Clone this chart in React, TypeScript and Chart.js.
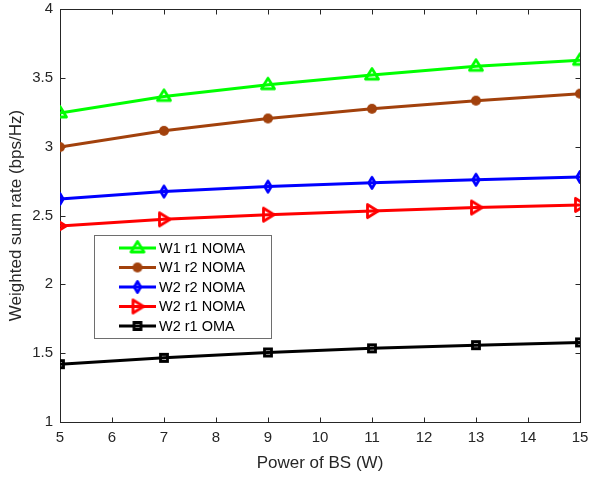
import React, { useEffect, useRef } from 'react';
import { Chart, registerables } from 'chart.js';

Chart.register(...registerables);

// ---- data ----
const powerBS = [5, 7, 9, 11, 13, 15];
const w1r1Noma = [3.245, 3.365, 3.45, 3.52, 3.584, 3.627];
const w1r2Noma = [2.997, 3.115, 3.205, 3.275, 3.334, 3.385];
const w2r2Noma = [2.62, 2.674, 2.71, 2.737, 2.76, 2.78];
const w2r1Noma = [2.424, 2.472, 2.506, 2.532, 2.558, 2.577];
const w2r1Oma = [1.42, 1.466, 1.505, 1.535, 1.558, 1.578];

const seriesLabels = ['W1 r1 NOMA', 'W1 r2 NOMA', 'W2 r2 NOMA', 'W2 r1 NOMA', 'W2 r1 OMA'];
const seriesColors = ['#00ff00', 'rgb(162,65,12)', '#0000ff', '#ff0000', '#000000'];
const seriesMarkers = ['triUp', 'circle', 'diamond', 'triRight', 'square'];
const seriesValues = [w1r1Noma, w1r2Noma, w2r2Noma, w2r1Noma, w2r1Oma];

const xTickValues = [5, 6, 7, 8, 9, 10, 11, 12, 13, 14, 15];
const yTickValues = [1, 1.5, 2, 2.5, 3, 3.5, 4];

const xTitle = 'Power of BS (W)';
const yTitle = 'Weighted sum rate (bps/Hz)';

const FONT = "'Liberation Sans', Arial, Helvetica, sans-serif";
const AXIS_COLOR = '#262626';

function makeMarker(kind: string, color: string): HTMLCanvasElement {
  const c = document.createElement('canvas');
  c.width = 24;
  c.height = 24;
  const ctx = c.getContext('2d')!;
  ctx.translate(12, 12);
  ctx.strokeStyle = color;
  ctx.fillStyle = color;
  ctx.lineWidth = 2.8;
  ctx.lineJoin = 'round';
  ctx.beginPath();
  if (kind === 'triUp') {
    ctx.moveTo(0, -6.5);
    ctx.lineTo(6.5, 4);
    ctx.lineTo(-6.5, 4);
    ctx.closePath();
    ctx.stroke();
  } else if (kind === 'triRight') {
    ctx.moveTo(6, 0);
    ctx.lineTo(-4.5, 6.5);
    ctx.lineTo(-4.5, -6.5);
    ctx.closePath();
    ctx.stroke();
  } else if (kind === 'diamond') {
    ctx.moveTo(0, -5.5);
    ctx.lineTo(3.2, 0);
    ctx.lineTo(0, 5.5);
    ctx.lineTo(-3.2, 0);
    ctx.closePath();
    ctx.stroke();
  } else if (kind === 'circle') {
    ctx.arc(0, 0, 5, 0, Math.PI * 2);
    ctx.fill();
  } else if (kind === 'square') {
    ctx.lineJoin = 'miter';
    ctx.rect(-3.5, -3.5, 7, 7);
    ctx.stroke();
  }
  return c;
}

export default function App() {
  const canvasRef = useRef<HTMLCanvasElement | null>(null);

  useEffect(() => {
    if (!canvasRef.current) return;
    const markers = seriesMarkers.map((m, i) => makeMarker(m, seriesColors[i]));

    const boxPlugin = {
      id: 'matlabBox',
      beforeDatasetsDraw(chart: any) {
        const { ctx, chartArea } = chart;
        const { left, right, top, bottom } = chartArea;
        const xs = chart.scales.x;
        const ys = chart.scales.y;
        ctx.save();
        ctx.strokeStyle = AXIS_COLOR;
        ctx.lineWidth = 1;
        const L = Math.round(left) + 0.5;
        const R = Math.round(right) + 0.5;
        const T = Math.round(top) + 0.5;
        const B = Math.round(bottom) + 0.5;
        ctx.strokeRect(L, T, R - L, B - T);
        ctx.beginPath();
        const tl = 5;
        xTickValues.forEach((v) => {
          const px = Math.round(xs.getPixelForValue(v)) + 0.5;
          ctx.moveTo(px, B);
          ctx.lineTo(px, B - tl);
          ctx.moveTo(px, T);
          ctx.lineTo(px, T + tl);
        });
        yTickValues.forEach((v) => {
          const py = Math.round(ys.getPixelForValue(v)) + 0.5;
          ctx.moveTo(L, py);
          ctx.lineTo(L + tl, py);
          ctx.moveTo(R, py);
          ctx.lineTo(R - tl, py);
        });
        ctx.stroke();
        ctx.restore();
      },
    };

    const legendPlugin = {
      id: 'insideLegend',
      afterDatasetsDraw(chart: any) {
        const { ctx } = chart;
        ctx.save();
        const bx = 94.5, by = 235.5, bw = 177, bh = 103;
        ctx.fillStyle = '#ffffff';
        ctx.fillRect(bx, by, bw, bh);
        ctx.strokeStyle = '#6e6e6e';
        ctx.lineWidth = 1;
        ctx.strokeRect(bx, by, bw, bh);
        const rowY = [248, 267.5, 287, 306.5, 326];
        ctx.font = `14.5px ${FONT}`;
        ctx.textBaseline = 'middle';
        ctx.textAlign = 'left';
        seriesLabels.forEach((lab, i) => {
          const y = rowY[i];
          ctx.strokeStyle = seriesColors[i];
          ctx.lineWidth = 3;
          ctx.beginPath();
          ctx.moveTo(119, y);
          ctx.lineTo(156, y);
          ctx.stroke();
          const mk = markers[i];
          ctx.drawImage(mk, 137.5 - mk.width / 2, y - mk.height / 2);
          ctx.fillStyle = '#000000';
          ctx.fillText(lab, 159, y + 0.5);
        });
        ctx.restore();
      },
    };

    const chart = new Chart(canvasRef.current, {
      type: 'line',
      data: {
        datasets: seriesValues.map((vals, i) => ({
          label: seriesLabels[i],
          data: vals.map((v, j) => ({ x: powerBS[j], y: v })),
          borderColor: seriesColors[i],
          backgroundColor: seriesColors[i],
          borderWidth: 3,
          pointStyle: markers[i] as any,
          pointRadius: 6,
          pointHoverRadius: 6,
          tension: 0,
          fill: false,
        })),
      },
      options: {
        animation: false,
        responsive: false,
        maintainAspectRatio: false,
        layout: { padding: { top: 9, right: 8, left: 0, bottom: 0 } },
        plugins: {
          legend: { display: false },
          tooltip: { enabled: false },
          title: { display: false },
        },
        scales: {
          x: {
            type: 'linear',
            min: 5,
            max: 15,
            afterBuildTicks: (scale: any) => {
              scale.ticks = xTickValues.map((v) => ({ value: v }));
            },
            afterFit: (scale: any) => {
              scale.height = 57;
              scale.paddingLeft = 0;
              scale.paddingRight = 0;
            },
            ticks: {
              autoSkip: false,
              maxRotation: 0,
              padding: 7,
              color: AXIS_COLOR,
              font: { family: FONT, size: 15 },
              callback: (v: any) => String(v),
            },
            grid: { display: false, drawTicks: false },
            border: { display: false },
            title: {
              display: true,
              text: xTitle,
              color: AXIS_COLOR,
              font: { family: FONT, size: 17 },
              padding: { top: 0, bottom: 5 },
            },
          },
          y: {
            type: 'linear',
            min: 1,
            max: 4,
            afterBuildTicks: (scale: any) => {
              scale.ticks = yTickValues.map((v) => ({ value: v }));
            },
            afterFit: (scale: any) => {
              scale.width = 60;
              scale.paddingTop = 0;
              scale.paddingBottom = 0;
            },
            ticks: {
              autoSkip: false,
              padding: 7,
              color: AXIS_COLOR,
              font: { family: FONT, size: 15 },
              callback: (v: any) => String(v),
            },
            grid: { display: false, drawTicks: false },
            border: { display: false },
            title: {
              display: true,
              text: yTitle,
              color: AXIS_COLOR,
              font: { family: FONT, size: 17 },
              padding: { top: 6, bottom: 0 },
            },
          },
        },
      } as any,
      plugins: [boxPlugin, legendPlugin],
    });
    return () => chart.destroy();
  }, []);

  return (
    <div style={{ position: 'fixed', left: 0, top: 0, width: 589, height: 479, background: '#fff' }}>
      <canvas ref={canvasRef} width={589} height={479} style={{ width: 589, height: 479, display: 'block' }} />
    </div>
  );
}
